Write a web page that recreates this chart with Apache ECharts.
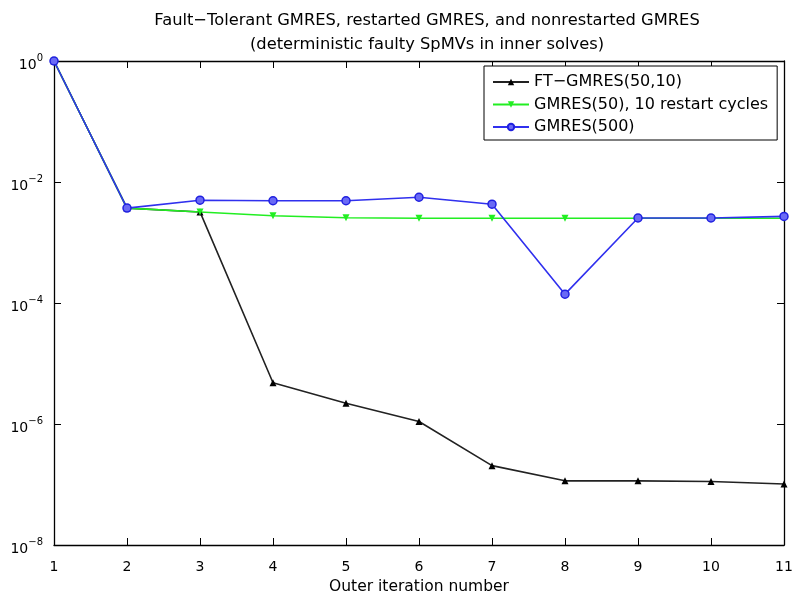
<!DOCTYPE html>
<html lang="en">
<head>
    <meta charset="UTF-8">
    <title>FT-GMRES convergence</title>
    <script src="https://cdn.jsdelivr.net/npm/echarts@6/dist/echarts.min.js"></script>
    <style>
        html, body { margin: 0; padding: 0; background: #fff; }
    </style>
</head>
<body>
    <div id="chart" style="width: 800px;height: 595px;"></div>
    <script>
        // outer iteration number
        var iterations = [1, 2, 3, 4, 5, 6, 7, 8, 9, 10, 11];
        // relative residual norms
        var ftGmres = [1, 3.7e-3, 3.2e-3, 4.8e-6, 2.2e-6, 1.1e-6, 2.05e-7, 1.15e-7, 1.15e-7, 1.12e-7, 1.02e-7];
        var gmresRestart = [1, 3.7e-3, 3.2e-3, 2.76e-3, 2.57e-3, 2.52e-3, 2.52e-3, 2.52e-3, 2.52e-3, 2.52e-3, 2.52e-3];
        var gmresFull = [1, 3.7e-3, 5.0e-3, 4.9e-3, 4.9e-3, 5.6e-3, 4.3e-3, 1.4e-4, 2.54e-3, 2.54e-3, 2.7e-3];
        var seriesNames = ['FT\u2212GMRES(50,10)', 'GMRES(50), 10 restart cycles', 'GMRES(500)'];

        function pairs(vals) {
            return iterations.map(function (x, i) { return [x, vals[i]]; });
        }

        var font = 'DejaVu Sans, sans-serif';
        var chart = echarts.init(document.getElementById('chart'));

        var option = {
            backgroundColor: '#fff',
            animation: false,
            title: {
                text: 'Fault\u2212Tolerant GMRES, restarted GMRES, and nonrestarted GMRES\n(deterministic faulty SpMVs in inner solves)',
                left: 422,
                top: 4,
                textAlign: 'center',
                textStyle: { fontFamily: font, fontSize: 16.3, fontWeight: 'normal', color: '#000', lineHeight: 24 }
            },
            legend: {
                orient: 'vertical',
                left: 484,
                top: 66,
                padding: [7, 9, 4, 8],
                itemGap: 4.5,
                itemWidth: 36,
                itemHeight: 8,
                borderColor: '#000',
                borderWidth: 1,
                borderRadius: 0,
                backgroundColor: '#fff',
                data: seriesNames,
                textStyle: { fontFamily: font, fontSize: 16, color: '#000', lineHeight: 18 }
            },
            grid: { left: 54, right: 16, top: 61, bottom: 50, containLabel: false, outerBoundsMode: 'none' },
            xAxis: [{
                type: 'value',
                min: 1,
                max: 11,
                interval: 1,
                name: 'Outer iteration number',
                nameLocation: 'middle',
                nameGap: 33,
                nameTextStyle: { fontFamily: font, fontSize: 15.5, color: '#000' },
                axisLine: { lineStyle: { color: '#000', width: 1.3 } },
                axisTick: { inside: true, length: 7, lineStyle: { color: '#000' } },
                axisLabel: { fontFamily: font, fontSize: 14, color: '#000', margin: 15 },
                splitLine: { show: false }
            }, {
                type: 'value',
                position: 'top',
                min: 1,
                max: 11,
                interval: 1,
                axisLine: { lineStyle: { color: '#000', width: 1.3 } },
                axisTick: { inside: true, length: 7, lineStyle: { color: '#000' } },
                axisLabel: { show: false },
                splitLine: { show: false }
            }],
            yAxis: [{
                type: 'log',
                min: 1e-8,
                max: 1,
                interval: 2,
                axisLine: { lineStyle: { color: '#000', width: 1.3 } },
                axisTick: { inside: true, length: 7, lineStyle: { color: '#000' } },
                minorTick: { show: false },
                axisLabel: {
                    fontFamily: font,
                    fontSize: 14,
                    color: '#000',
                    margin: 11,
                    formatter: function (v) {
                        var e = Math.round(Math.log10(v));
                        return '{base|10}{sup|' + (e < 0 ? '\u2212' + (-e) : e) + '}';
                    },
                    rich: {
                        base: { fontFamily: font, fontSize: 14, color: '#000', padding: [8, 0, 0, 0] },
                        sup: { fontFamily: font, fontSize: 10, color: '#000', padding: [0, 0, 6, 0] }
                    }
                },
                splitLine: { show: false }
            }, {
                type: 'log',
                position: 'right',
                min: 1e-8,
                max: 1,
                interval: 2,
                axisLine: { lineStyle: { color: '#000', width: 1.3 } },
                axisTick: { inside: true, length: 7, lineStyle: { color: '#000' } },
                axisLabel: { show: false },
                splitLine: { show: false }
            }],
            series: [{
                name: seriesNames[0],
                type: 'line',
                data: pairs(ftGmres),
                symbol: 'triangle',
                symbolSize: 7,
                color: '#111',
                lineStyle: { width: 1.6, color: '#222' },
                itemStyle: { color: '#000' }
            }, {
                name: seriesNames[1],
                type: 'line',
                data: pairs(gmresRestart),
                symbol: 'triangle',
                symbolRotate: 180,
                symbolSize: 7,
                color: '#22ee22',
                lineStyle: { width: 1.6, color: '#22ee22' },
                itemStyle: { color: '#22ee22' }
            }, {
                name: seriesNames[2],
                type: 'line',
                data: pairs(gmresFull),
                symbol: 'circle',
                symbolSize: 8,
                color: '#3030ee',
                lineStyle: { width: 1.6, color: '#3030ee' },
                itemStyle: { color: '#6a6af5', borderColor: '#2020e0', borderWidth: 1.5 }
            }]
        };
        chart.setOption(option);
    </script>
</body>
</html>
